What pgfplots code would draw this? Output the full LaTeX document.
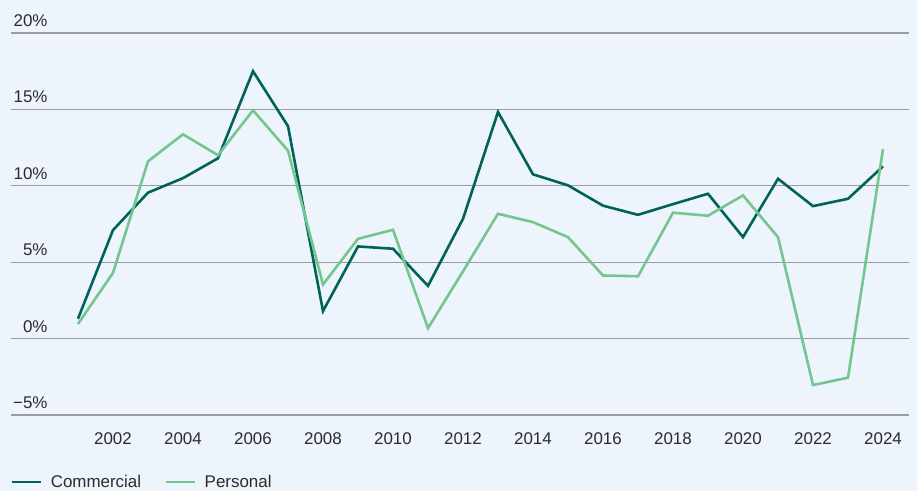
\documentclass[border=0pt]{standalone}
\usepackage{fontspec}
\setmainfont{Liberation Sans}
\usepackage{pgfplots}
\pgfplotsset{compat=1.18}
\definecolor{bgc}{HTML}{EDF4FC}
\definecolor{comm}{HTML}{00635A}
\definecolor{pers}{HTML}{74C68F}
\definecolor{gridc}{HTML}{9C9CA2}
\definecolor{txt}{HTML}{2B2B2B}
\begin{document}
\begin{tikzpicture}[x=1bp,y=1bp]
\fill[bgc] (0,0) rectangle (917,491);
\begin{axis}[
  at={(11bp,76bp)}, anchor=south west,
  scale only axis, width=898bp, height=382bp,
  xmin=1999.086, xmax=2024.743, ymin=-5, ymax=20,
  axis line style={draw=none},
  major tick length=0pt,
  ymajorgrids, grid style={gridc, line width=1.2bp},
  ytick={-5,0,5,10,15,20},
  yticklabels={−5\%,0\%,5\%,10\%,15\%,20\%},
  xtick={2002,2004,...,2024},
  xticklabels={2002,2004,2006,2008,2010,2012,2014,2016,2018,2020,2022,2024},
  tick label style={font=\fontsize{17}{20}\selectfont, text=txt, inner sep=0pt},
  yticklabel style={anchor=base east, xshift=36.7bp, yshift=6.5bp},
  xticklabel style={anchor=base, yshift=-29.3bp},
  clip=false,
  legend columns=2,
  legend style={at={(0,-0.1754)}, anchor=west, draw=none, fill=none,
    inner sep=0pt, font=\fontsize{17}{20}\selectfont, text=txt,
    nodes={inner sep=0pt},
    /tikz/every odd column/.style={column sep=8bp},
    /tikz/every even column/.style={column sep=24bp}},
  legend image code/.code={\draw[#1] (0bp,0bp) -- (29bp,0bp);},
]
\addplot[comm, line width=2.6bp] coordinates {
(2001,1.3) (2002,7.1) (2003,9.55) (2004,10.5) (2005,11.8) (2006,17.5)
(2007,13.9) (2008,1.8) (2009,6.03) (2010,5.88) (2011,3.45) (2012,7.84)
(2013,14.83) (2014,10.75) (2015,10.03) (2016,8.7) (2017,8.1) (2018,8.8)
(2019,9.48) (2020,6.64) (2021,10.46) (2022,8.67) (2023,9.15) (2024,11.27)};
\addlegendentry{Commercial}
\addplot[pers, line width=2.6bp] coordinates {
(2001,0.96) (2002,4.3) (2003,11.6) (2004,13.37) (2005,12.0) (2006,14.94)
(2007,12.3) (2008,3.54) (2009,6.53) (2010,7.12) (2011,0.68) (2012,4.4)
(2013,8.17) (2014,7.62) (2015,6.64) (2016,4.13) (2017,4.08) (2018,8.24)
(2019,8.04) (2020,9.37) (2021,6.64) (2022,-3.04) (2023,-2.56) (2024,12.4)};
\addlegendentry{Personal}
\end{axis}
\end{tikzpicture}
\end{document}
